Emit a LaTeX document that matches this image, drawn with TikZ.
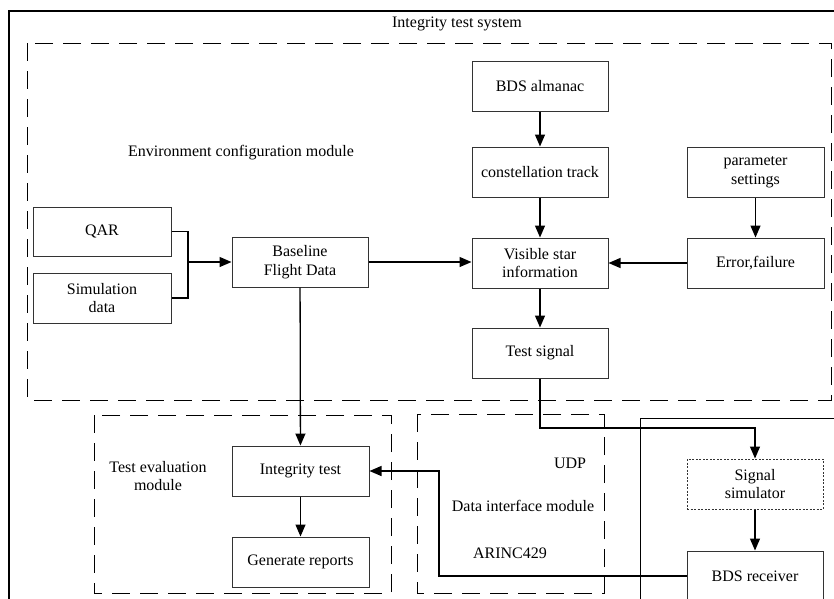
\documentclass[tikz,border=0pt]{standalone}
\usepackage{fontspec}
\setmainfont{Liberation Serif}
\usetikzlibrary{arrows.meta}
\begin{document}
\begin{tikzpicture}[x=1pt,y=-1pt,
  font=\fontsize{16}{18.5}\selectfont,
  box/.style={draw=black!80, line width=1pt, minimum width=136pt, minimum height=50pt, inner sep=2pt, align=center},
  dbox/.style={box, dash pattern=on 2pt off 1.5pt},
  arr/.style={line width=1.3pt, -{Triangle[length=12pt,width=10pt]}},
  ln/.style={line width=1.3pt},
  grp/.style={line width=1pt, dash pattern=on 18pt off 10pt},
  lbl/.style={align=center, inner sep=0pt}]
\useasboundingbox (0,0) rectangle (834,598);
\clip (0,0) rectangle (834,598);
% frames
\draw[line width=1.2pt] (9,640) -- (9,11) -- (860,11);
\draw[grp] (27,43) rectangle (831,400);
\draw[grp] (94,415) rectangle (391,593);
\draw[grp] (417,414) rectangle (604,593);
\draw[line width=1pt] (640,640) -- (640,418) -- (860,418);
% labels
\node[lbl] (tsys) at (457,24) {Integrity test system};
\node[lbl] (envl) at (241,153) {Environment configuration module};
\node[lbl] (evall) at (158,476) {Test evaluation\\module};
\node[lbl] (udp) at (570,463) {UDP};
\node[lbl] (difl) at (523,506) {Data interface module};
\node[lbl] (arinc) at (510,553) {ARINC429};
% boxes
\node[box, minimum width=138pt, minimum height=49pt] (qar) at (102,231.5) {QAR};
\node[box, minimum width=138pt] (sim) at (102,298) {Simulation\\data};
\node[box] (base) at (300,262) {Baseline\\Flight Data};
\node[box] (alm) at (540,86) {BDS almanac};
\node[box] (con) at (540,172) {constellation track};
\node[box] (vis) at (540,263) {Visible star\\information};
\node[box] (ts) at (540,353) {Test signal};
\node[box, minimum width=137pt] (par) at (755.5,172) {parameter\\settings};
\node[box, minimum width=137pt] (err) at (755.5,263) {Error,failure};
\node[box, minimum width=137pt] (integ) at (300.5,471) {Integrity test};
\node[box, minimum width=137pt] (gen) at (300.5,562) {Generate reports};
\node[dbox] (sig) at (755,484) {Signal\\simulator};
\node[box] (bds) at (755,576) {BDS receiver};
% connectors
\coordinate (j) at (188,262);
\draw[ln] (qar.east) -| (j) |- (sim.east);
\draw[arr] (j) -- (base.west);
\draw[arr] (base.east) -- (vis.west |- base.east);
\draw[arr] (alm) -- (con);
\draw[arr] (con) -- (vis);
\draw[arr] (vis) -- (ts);
\draw[arr] (par) -- (err);
\draw[arr] (err) -- (vis);
\draw[arr] (base) -- (integ);
\draw[arr] (integ) -- (gen);
\coordinate (tb) at (540,428);
\draw[arr] (ts.south) -- (tb) -| (sig.north);
\draw[arr] (sig) -- (bds);
\coordinate (ab) at (439,576);
\draw[arr] (bds.west) -- (ab) |- (integ.east);
\end{tikzpicture}
\end{document}
